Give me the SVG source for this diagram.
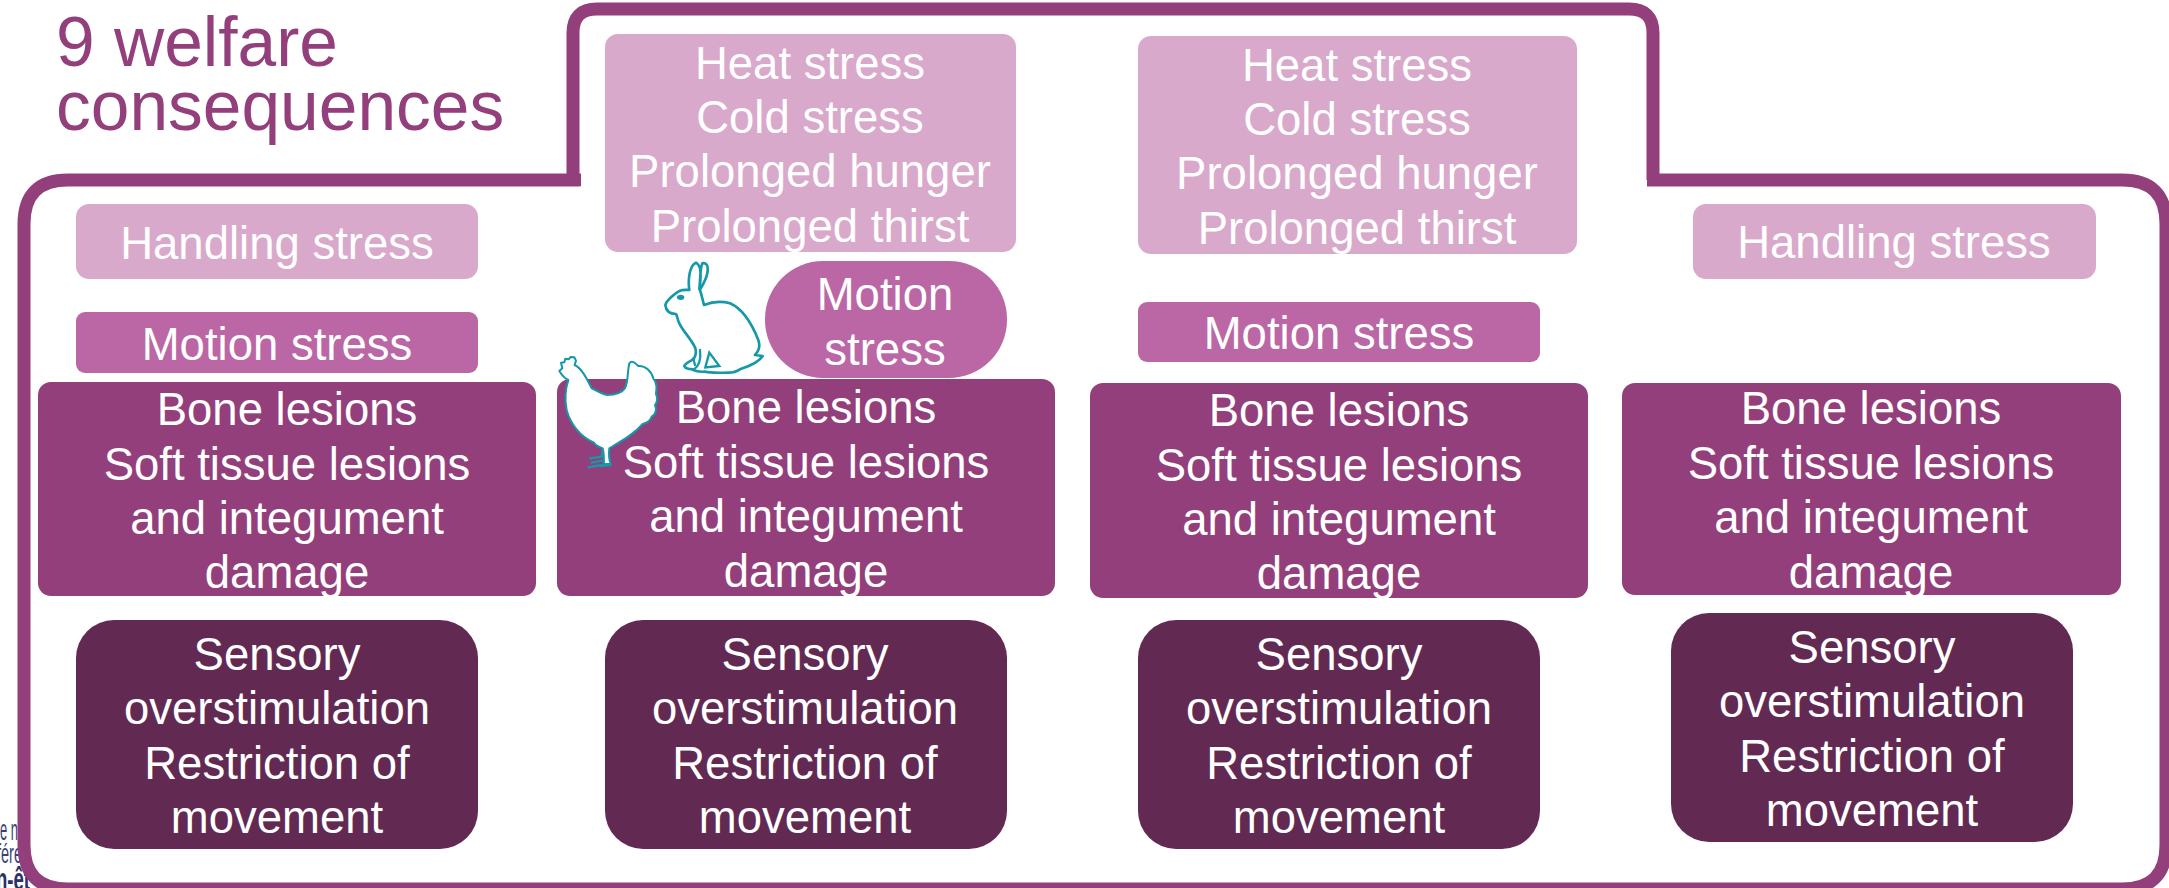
<svg xmlns="http://www.w3.org/2000/svg" width="2169" height="888" viewBox="0 0 2169 888">
<style>
text{font-family:"Liberation Sans",Arial,sans-serif}
.t{font-size:45.5px;fill:#fff;text-anchor:middle}
.l{fill:#d9a9cb}.m{fill:#bb67a5}.b{fill:#933f7c}.d{fill:#622a53}
.a{fill:#fff;stroke:#1598a8;stroke-linejoin:round}
.f{fill:none;stroke:#1598a8;stroke-linecap:round}
</style>
<rect width="2169" height="888" fill="#fff"/>
<g id="footer" fill="#3a3f7a">
<text x="0" y="840" font-size="29" textLength="18" lengthAdjust="spacingAndGlyphs">e n</text>
<text x="-3" y="863" font-size="27" textLength="25" lengthAdjust="spacingAndGlyphs">fére</text>
<text x="-4" y="890" font-size="31" font-weight="700" fill="#2b2f6b" textLength="34" lengthAdjust="spacingAndGlyphs">n-êt</text>
</g>
<g id="frame">
<path d="M573 180V33Q573 9 597 9H1629Q1653 9 1653 33V180" fill="none" stroke="#933f7c" stroke-width="13"/>
<path d="M581 180H68Q24 180 24 224V845Q24 889 68 889H2122Q2166 889 2166 845V224Q2166 180 2122 180H1647" fill="#fff" stroke="#933f7c" stroke-width="13"/>
<rect x="579.500" y="186.500" width="1067" height="4" fill="#fff"/>
</g>
<g id="title"><text font-size="69.5" fill="#933f7c"><tspan x="56" y="66">9 welfare</tspan><tspan x="56" y="130">consequences</tspan></text></g>
<g id="col1">
<g id="handling-1"><rect class="l" x="76" y="204" width="402" height="75" rx="13"/><text class="t" x="277" y="259">Handling stress</text></g>
<g id="motion-1"><rect class="m" x="76" y="312" width="402" height="61" rx="9"/><text class="t" x="277" y="360">Motion stress</text></g>
<g id="bone-1"><rect class="b" x="38" y="382" width="498" height="214" rx="13"/><text class="t"><tspan x="287" y="425">Bone lesions</tspan><tspan x="287" y="480">Soft tissue lesions</tspan><tspan x="287" y="534">and integument</tspan><tspan x="287" y="588">damage</tspan></text></g>
<g id="sensory-1"><rect class="d" x="76" y="620" width="402" height="229" rx="38"/><text class="t"><tspan x="277" y="670">Sensory</tspan><tspan x="277" y="724">overstimulation</tspan><tspan x="277" y="779">Restriction of</tspan><tspan x="277" y="833">movement</tspan></text></g>
</g>
<g id="col2">
<g id="stress-2"><rect class="l" x="605" y="34" width="411" height="218" rx="13"/><text class="t"><tspan x="810" y="79">Heat stress</tspan><tspan x="810" y="133">Cold stress</tspan><tspan x="810" y="187">Prolonged hunger</tspan><tspan x="810" y="242">Prolonged thirst</tspan></text></g>
<g id="motion-2"><rect class="m" x="765" y="261" width="242" height="117" rx="58"/><text class="t"><tspan x="885" y="310">Motion</tspan><tspan x="885" y="365">stress</tspan></text></g>
<g id="bone-2"><rect class="b" x="557" y="379" width="498" height="217" rx="13"/><text class="t"><tspan x="806" y="423">Bone lesions</tspan><tspan x="806" y="478">Soft tissue lesions</tspan><tspan x="806" y="532">and integument</tspan><tspan x="806" y="587">damage</tspan></text></g>
<g id="sensory-2"><rect class="d" x="605" y="620" width="402" height="229" rx="38"/><text class="t"><tspan x="805" y="670">Sensory</tspan><tspan x="805" y="724">overstimulation</tspan><tspan x="805" y="779">Restriction of</tspan><tspan x="805" y="833">movement</tspan></text></g>
</g>
<g id="col3">
<g id="stress-3"><rect class="l" x="1138" y="36" width="439" height="218" rx="13"/><text class="t"><tspan x="1357" y="81">Heat stress</tspan><tspan x="1357" y="135">Cold stress</tspan><tspan x="1357" y="189">Prolonged hunger</tspan><tspan x="1357" y="244">Prolonged thirst</tspan></text></g>
<g id="motion-3"><rect class="m" x="1138" y="302" width="402" height="60" rx="9"/><text class="t" x="1339" y="349">Motion stress</text></g>
<g id="bone-3"><rect class="b" x="1090" y="383" width="498" height="215" rx="13"/><text class="t"><tspan x="1339" y="426">Bone lesions</tspan><tspan x="1339" y="481">Soft tissue lesions</tspan><tspan x="1339" y="535">and integument</tspan><tspan x="1339" y="589">damage</tspan></text></g>
<g id="sensory-3"><rect class="d" x="1138" y="620" width="402" height="229" rx="38"/><text class="t"><tspan x="1339" y="670">Sensory</tspan><tspan x="1339" y="724">overstimulation</tspan><tspan x="1339" y="779">Restriction of</tspan><tspan x="1339" y="833">movement</tspan></text></g>
</g>
<g id="col4">
<g id="handling-4"><rect class="l" x="1693" y="204" width="403" height="75" rx="13"/><text class="t" x="1894" y="258">Handling stress</text></g>
<g id="bone-4"><rect class="b" x="1622" y="383" width="499" height="212" rx="13"/><text class="t"><tspan x="1871" y="424">Bone lesions</tspan><tspan x="1871" y="479">Soft tissue lesions</tspan><tspan x="1871" y="533">and integument</tspan><tspan x="1871" y="588">damage</tspan></text></g>
<g id="sensory-4"><rect class="d" x="1671" y="613" width="402" height="229" rx="38"/><text class="t"><tspan x="1872" y="663">Sensory</tspan><tspan x="1872" y="717">overstimulation</tspan><tspan x="1872" y="772">Restriction of</tspan><tspan x="1872" y="826">movement</tspan></text></g>
</g>
<g id="rabbit" transform="translate(520 240) scale(.3333)">
<path class="a" style="stroke-width:8" d="M508 150C503 115 510 75 528 68C542 75 545 105 538 148C542 110 540 78 548 69C560 68 566 78 562 100C558 120 548 135 540 150C545 165 548 180 552 195C570 188 600 182 630 190C665 205 695 250 715 300C722 320 715 335 705 345L728 348C718 365 690 378 660 388C650 395 640 398 625 398C600 398 575 400 555 395C540 396 525 394 518 388C505 388 495 385 493 378C495 370 512 365 522 355C528 345 530 335 525 322C512 295 490 275 478 250C472 238 472 228 468 222C450 222 438 212 436 195C440 180 465 160 480 152C490 148 500 150 508 150Z"/>
<ellipse cx="482" cy="172" rx="11" ry="8" fill="#1598a8"/>
<path class="f" style="stroke-width:7" d="M540 330C544 360 535 380 520 390M568 338L556 382L598 378ZM520 355L525 375"/>
</g>
<g id="chicken" transform="translate(520 240) scale(.3333)">
<path class="f" style="stroke-width:7" d="M248 628L245 650L210 655M248 662L215 668M262 672L205 682M272 675L240 678"/>
<path class="a" style="stroke-width:6" d="M118 393L127 385L123 368L133 367L136 356L146 358L152 351L163 352L168 362L164 375C185 385 200 415 215 445C230 452 245 462 262 465C285 465 305 460 315 445C325 425 322 395 328 370C335 360 345 368 355 378C375 375 395 395 400 415C412 430 410 445 408 462C415 475 410 490 405 495C412 510 405 525 395 530C390 545 380 548 368 552C345 580 310 600 268 625C266 640 268 660 272 672L252 672C252 655 252 640 248 625C235 620 225 615 222 608C180 590 150 550 140 510C133 475 137 445 145 420C135 415 125 405 118 393Z"/>
</g>
</svg>
